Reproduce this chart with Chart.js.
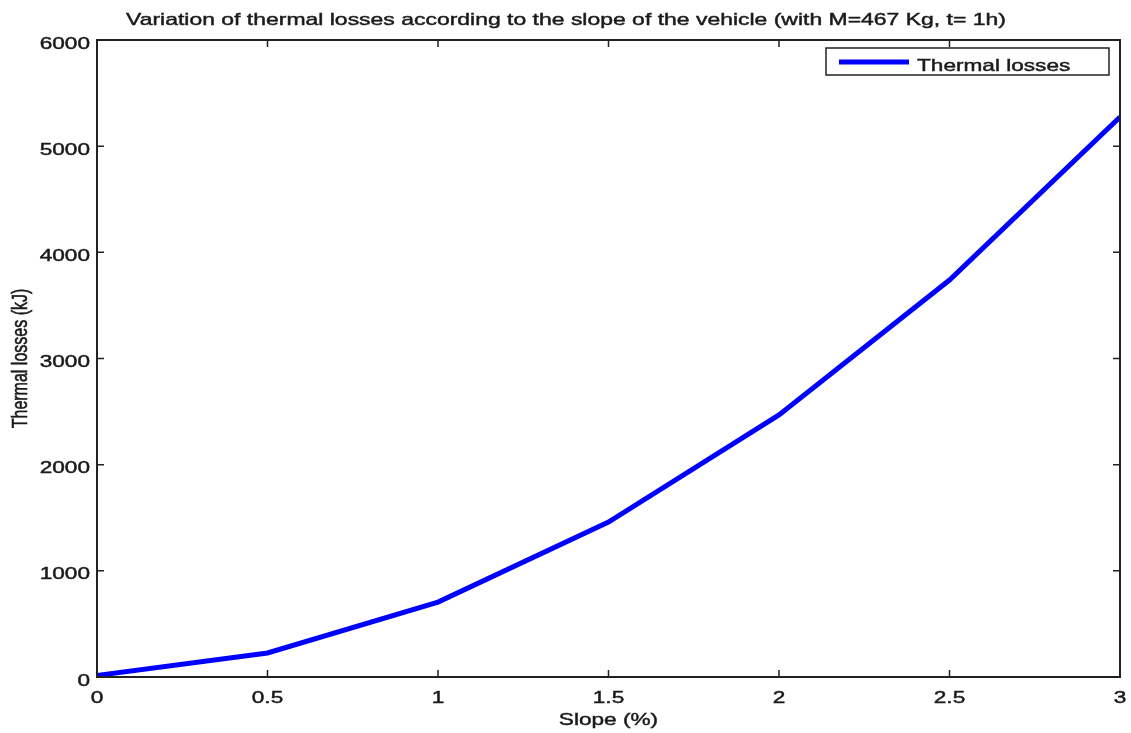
<!DOCTYPE html>
<html>
<head>
<meta charset="utf-8">
<script src="https://cdn.jsdelivr.net/npm/chart.js@4/dist/chart.umd.min.js"></script>
<style>
html,body{margin:0;padding:0;background:#fff;}
#wrap{width:1131px;height:733px;}
</style>
</head>
<body>
<div id="wrap"><canvas id="c" width="1131" height="733"></canvas></div>
<script>
const slope = [0, 0.5, 1, 1.5, 2, 2.5, 3];
const thermalLosses = [15, 226, 706, 1460, 2468, 3739, 5275];
const seriesName = 'Thermal losses';
const chartTitle = 'Variation of thermal losses according to the slope of the vehicle (with M=467 Kg, t= 1h)';
const xTitle = 'Slope (%)';
const yTitle = 'Thermal losses (kJ)';

const FONT = '"Liberation Sans", Arial, sans-serif';
const SX = 1.33;         // horizontal text stretch seen in the reference
const TXT = '#1a1a1a';

function stretchedText(ctx, text, x, y, align, size, rot, sx) {
  const s = sx || SX;
  ctx.save();
  ctx.font = size + 'px ' + FONT;
  ctx.fillStyle = TXT;
  ctx.strokeStyle = TXT;
  ctx.lineWidth = 0.45;
  ctx.textAlign = align;
  ctx.textBaseline = 'alphabetic';
  ctx.translate(x, y);
  if (rot) {
    ctx.rotate(-Math.PI / 2);
    ctx.scale(1, s);
  } else {
    ctx.scale(s, 1);
  }
  ctx.fillText(text, 0, 0);
  ctx.strokeText(text, 0, 0);
  ctx.restore();
}

const framePlugin = {
  id: 'frame',
  afterDatasetsDraw(chart) {
    const {ctx, chartArea: a, scales} = chart;
    ctx.save();
    ctx.strokeStyle = '#222';
    ctx.lineWidth = 2;
    ctx.strokeRect(a.left, a.top, a.right - a.left, a.bottom - a.top);
    ctx.lineWidth = 1.5;
    const tl = 7;
    scales.x.ticks.forEach(t => {
      const px = scales.x.getPixelForValue(t.value);
      ctx.beginPath();
      ctx.moveTo(px, a.bottom); ctx.lineTo(px, a.bottom - tl);
      ctx.moveTo(px, a.top); ctx.lineTo(px, a.top + tl);
      ctx.stroke();
    });
    scales.y.ticks.forEach(t => {
      const py = scales.y.getPixelForValue(t.value);
      ctx.beginPath();
      ctx.moveTo(a.left, py); ctx.lineTo(a.left + tl, py);
      ctx.moveTo(a.right, py); ctx.lineTo(a.right - tl, py);
      ctx.stroke();
    });
    ctx.restore();

    // tick labels (from the library's scales)
    scales.x.ticks.forEach(t => {
      const px = scales.x.getPixelForValue(t.value);
      stretchedText(ctx, String(t.label), px, a.bottom + 25.5, 'center', 17);
    });
    scales.y.ticks.forEach(t => {
      const py = scales.y.getPixelForValue(t.value);
      stretchedText(ctx, String(t.label), a.left - 7, py + 8.5, 'right', 17);
    });

    // titles
    stretchedText(ctx, chartTitle, 566, 25, 'center', 17, false, 1.35);
    stretchedText(ctx, xTitle, (a.left + a.right) / 2, 725, 'center', 17);
    stretchedText(ctx, yTitle, 27, (a.top + a.bottom) / 2, 'center', 16, true);

    // legend box
    const ds = chart.data.datasets[0];
    const bx = 826, by = 48, bw = 283, bh = 27;
    ctx.save();
    ctx.fillStyle = '#fff';
    ctx.fillRect(bx, by, bw, bh);
    ctx.lineWidth = 1.5;
    ctx.strokeStyle = '#222';
    ctx.strokeRect(bx, by, bw, bh);
    ctx.strokeStyle = ds.borderColor;
    ctx.lineWidth = 5;
    ctx.beginPath();
    ctx.moveTo(839, 62); ctx.lineTo(909, 62);
    ctx.stroke();
    ctx.restore();
    stretchedText(ctx, ds.label, 917, 71, 'left', 17);
  }
};

new Chart(document.getElementById('c'), {
  type: 'line',
  data: {
    datasets: [{
      label: seriesName,
      data: slope.map((x, i) => ({x: x, y: thermalLosses[i]})),
      borderColor: '#0000ff',
      backgroundColor: '#0000ff',
      borderWidth: 5,
      pointRadius: 0,
      tension: 0,
      fill: false
    }]
  },
  options: {
    responsive: false,
    animation: false,
    layout: {padding: {left: 0, right: 11, top: 40, bottom: 0}},
    plugins: {
      legend: {display: false},
      tooltip: {enabled: false},
      title: {display: false}
    },
    scales: {
      x: {
        type: 'linear',
        min: 0, max: 3,
        grid: {display: false, drawTicks: false},
        border: {display: false},
        ticks: {display: false, stepSize: 0.5, callback: v => String(v)},
        afterFit: s => { s.height = 56; }
      },
      y: {
        min: 0, max: 6000,
        grid: {display: false, drawTicks: false},
        border: {display: false},
        ticks: {display: false, stepSize: 1000, callback: v => String(v)},
        afterFit: s => { s.width = 97; }
      }
    }
  },
  plugins: [framePlugin]
});
</script>
</body>
</html>
